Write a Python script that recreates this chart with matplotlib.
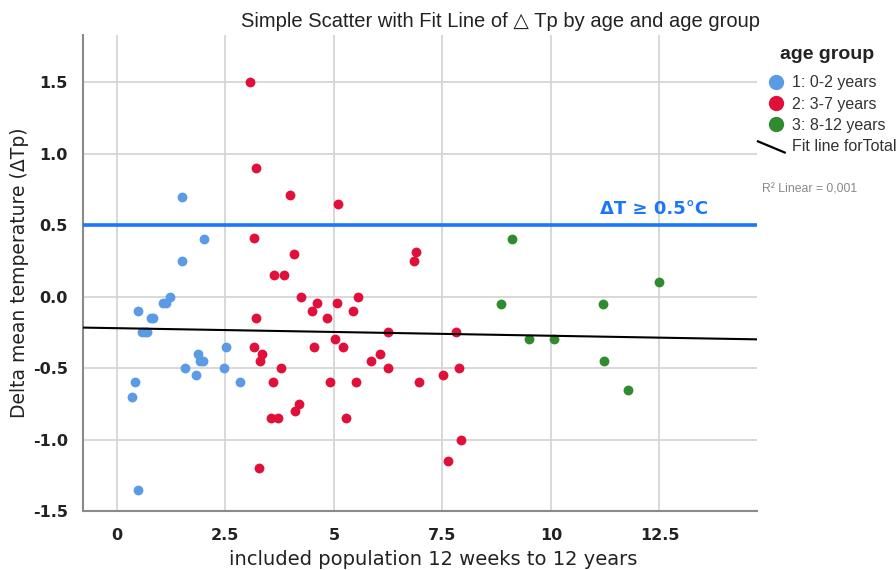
import matplotlib.pyplot as plt
from matplotlib.lines import Line2D
from matplotlib.legend_handler import HandlerBase

# age (years) and delta Tp per age group
x_young = [1.5, 2.0, 1.5, 1.22, 1.06, 1.13, 0.49, 0.78, 0.84, 0.58, 0.64, 0.7,
           2.51, 1.87, 1.91, 1.98, 1.57, 1.82, 2.47, 2.83, 0.42, 0.35, 0.49]
y_young = [0.70, 0.40, 0.25, 0.0, -0.045, -0.045, -0.10, -0.15, -0.15, -0.25, -0.25, -0.25,
           -0.35, -0.40, -0.45, -0.45, -0.50, -0.55, -0.50, -0.60, -0.60, -0.70, -1.35]

x_mid = [3.07, 3.2, 4.0, 5.1, 3.16, 4.08, 3.62, 3.85, 4.24, 4.61, 4.49, 5.07, 5.55, 5.44,
         4.84, 3.2, 6.24, 5.02, 5.2, 4.54, 3.16, 3.34, 3.3, 6.06, 5.85, 6.24, 3.78, 3.59,
         4.91, 5.5, 4.19, 4.1, 3.55, 3.71, 5.28, 3.27, 6.89, 6.84, 7.81, 7.88, 7.51, 6.96,
         7.93, 7.63]
y_mid = [1.50, 0.90, 0.71, 0.65, 0.41, 0.30, 0.15, 0.15, 0.0, -0.045, -0.10, -0.045, 0.0, -0.10,
         -0.15, -0.15, -0.245, -0.295, -0.35, -0.35, -0.35, -0.40, -0.45, -0.40, -0.45, -0.50, -0.50, -0.60,
         -0.60, -0.60, -0.75, -0.80, -0.85, -0.85, -0.85, -1.20, 0.31, 0.25, -0.245, -0.50, -0.55, -0.60,
         -1.0, -1.15]

x_old = [9.1, 8.84, 11.2, 9.5, 10.07, 11.22, 11.77, 12.49]
y_old = [0.40, -0.05, -0.05, -0.30, -0.30, -0.45, -0.65, 0.10]

fit_intercept = -0.221
fit_slope = -0.0053
threshold = 0.5

x_ticks = [0, 2.5, 5, 7.5, 10, 12.5]
x_tick_labels = ['0', '2.5', '5', '7.5', '10', '12.5']
y_ticks = [-1.5, -1.0, -0.5, 0.0, 0.5, 1.0, 1.5]

c_young = '#5b9be6'
c_mid = '#e0103a'
c_old = '#2e8b2e'
sans = ['Liberation Sans', 'DejaVu Sans']


class DiagonalHandler(HandlerBase):
    def create_artists(self, legend, orig_handle, xdescent, ydescent, width, height, fontsize, trans):
        line = Line2D([xdescent - width * 0.45, xdescent + width * 0.95],
                      [height * 0.9, -height * 0.1], color='black', lw=1.6, transform=trans)
        return [line]


fig = plt.figure(figsize=(8.96, 5.70), dpi=100)
ax = fig.add_axes([0.0926, 0.1035, 0.7524, 0.8351])

ax.scatter(x_young, y_young, s=50, color=c_young, zorder=3, linewidths=0)
ax.scatter(x_mid, y_mid, s=50, color=c_mid, zorder=3, linewidths=0)
ax.scatter(x_old, y_old, s=50, color=c_old, zorder=3, linewidths=0)

xlim = (-0.78, 14.75)
ax.set_xlim(*xlim)
ax.set_ylim(-1.5, 1.83)
ax.plot(xlim, [fit_intercept + fit_slope * v for v in xlim], color='black', lw=1.5, zorder=4)
ax.axhline(threshold, color='#1a75ff', lw=2.6, zorder=4)
ax.text(11.13, 0.615, 'ΔT ≥ 0.5°C', color='#1a75ff', fontsize=13, fontweight='bold',
        ha='left', va='center')

ax.set_xticks(x_ticks)
ax.set_xticklabels(x_tick_labels)
ax.set_yticks(y_ticks)
ax.set_yticklabels([f'{v:.1f}' for v in y_ticks])
ax.tick_params(length=0, labelsize=11.5, colors='#222222')
ax.tick_params(axis='x', pad=12)
ax.tick_params(axis='y', pad=11)
for lab in ax.get_xticklabels() + ax.get_yticklabels():
    lab.set_fontweight('bold')
ax.grid(True, color='#d6d6d6', lw=1.3)
ax.set_axisbelow(True)
for s in ['top', 'right']:
    ax.spines[s].set_visible(False)
for s in ['left', 'bottom']:
    ax.spines[s].set_color('#8a8a8a')
    ax.spines[s].set_linewidth(1.5)

ax.set_ylabel('Delta mean temperature (ΔTp)', fontsize=13.5, color='#222222', labelpad=3)
ax.set_xlabel('included population 12 weeks to 12 years', fontsize=14, color='#222222',
              labelpad=5, x=0.52)
ax.set_title('Simple Scatter with Fit Line of △ Tp by age and age group', fontsize=14.5,
             family=sans, color='#222222', pad=6, x=0.619)

handles = [Line2D([], [], marker='o', ls='', color=c_young, markersize=10),
           Line2D([], [], marker='o', ls='', color=c_mid, markersize=10),
           Line2D([], [], marker='o', ls='', color=c_old, markersize=10),
           Line2D([], [], color='black')]
labels = ['1: 0-2 years', '2: 3-7 years', '3: 8-12 years', 'Fit line forTotal']
leg = fig.legend(handles, labels, loc='upper left',
                 bbox_to_anchor=(0.8555, 0.868), frameon=False,
                 handlelength=1.2, handletextpad=0.4, labelspacing=0.4,
                 borderaxespad=0, borderpad=0, handler_map={handles[3]: DiagonalHandler()},
                 prop={'family': sans, 'size': 11.5})
for t in leg.get_texts():
    t.set_color('#333333')
fig.text(0.923, 0.905, 'age group', fontsize=14, fontweight='bold', family=sans,
         color='#222222', ha='center', va='center')
fig.text(0.85, 0.667, 'R² Linear = 0,001', fontsize=8.8, color='#888888', family=sans,
         va='center')

fig.savefig('out.png', dpi=100)
